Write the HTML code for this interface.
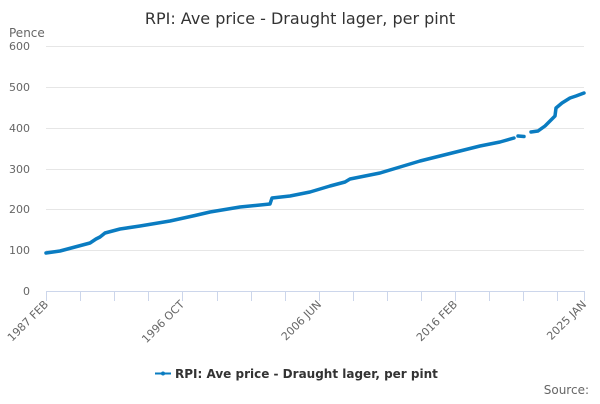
<!DOCTYPE html>
<html><head><meta charset="utf-8"><style>
body{margin:0;width:600px;height:400px;background:#fff;overflow:hidden;font-family:"DejaVu Sans","Liberation Sans",sans-serif;}
</style></head><body>
<svg width="600" height="400" xmlns="http://www.w3.org/2000/svg" font-family="DejaVu Sans, Liberation Sans, sans-serif">
<text x="300" y="24" text-anchor="middle" font-size="16" fill="#333">RPI: Ave price - Draught lager, per pint</text>
<text x="9" y="37" font-size="12" fill="#666">Pence</text>
<g stroke="#e6e6e6" stroke-width="1">
<line x1="46" x2="584" y1="46.5" y2="46.5"/><line x1="46" x2="584" y1="87.5" y2="87.5"/>
<line x1="46" x2="584" y1="128.5" y2="128.5"/><line x1="46" x2="584" y1="169.5" y2="169.5"/>
<line x1="46" x2="584" y1="209.5" y2="209.5"/><line x1="46" x2="584" y1="250.5" y2="250.5"/>
</g>
<line x1="46" x2="584" y1="291.5" y2="291.5" stroke="#ccd6eb"/>
<g stroke="#ccd6eb">
<line x1="46.5" x2="46.5" y1="291" y2="301"/><line x1="80.5" x2="80.5" y1="291" y2="301"/><line x1="114.5" x2="114.5" y1="291" y2="301"/><line x1="148.5" x2="148.5" y1="291" y2="301"/><line x1="182.5" x2="182.5" y1="291" y2="301"/><line x1="217.5" x2="217.5" y1="291" y2="301"/><line x1="251.5" x2="251.5" y1="291" y2="301"/><line x1="285.5" x2="285.5" y1="291" y2="301"/><line x1="319.5" x2="319.5" y1="291" y2="301"/><line x1="353.5" x2="353.5" y1="291" y2="301"/><line x1="387.5" x2="387.5" y1="291" y2="301"/><line x1="421.5" x2="421.5" y1="291" y2="301"/><line x1="455.5" x2="455.5" y1="291" y2="301"/><line x1="489.5" x2="489.5" y1="291" y2="301"/><line x1="523.5" x2="523.5" y1="291" y2="301"/><line x1="557.5" x2="557.5" y1="291" y2="301"/><line x1="584.5" x2="584.5" y1="291" y2="301"/>
</g>
<g font-size="11" fill="#666" text-anchor="end">
<text x="30" y="50">600</text><text x="30" y="91">500</text><text x="30" y="132">400</text><text x="30" y="173">300</text><text x="30" y="213">200</text><text x="30" y="254">100</text><text x="30" y="295">0</text>
</g>
<g font-size="11" fill="#666" text-anchor="end">
<text transform="translate(49,305) rotate(-45)">1987 FEB</text>
<text transform="translate(185,305) rotate(-45)">1996 OCT</text>
<text transform="translate(322,305) rotate(-45)">2006 JUN</text>
<text transform="translate(458,305) rotate(-45)">2016 FEB</text>
<text transform="translate(587,305) rotate(-45)">2025 JAN</text>
</g>
<g fill="none" stroke="#0a7cc1" stroke-width="3.5" stroke-linejoin="round" stroke-linecap="round">
<polyline points="46,253 60,251 75,247 90,243 96,239 100,237 105,233 120,229 140,226 170,221 195,215.5 210,212 240,207 270,204 272,198 290,196 310,192 330,186 345,182 350,179 360,177 380,173 400,167 420,161 440,156 460,151 480,146 500,142 514,138"/>
<polyline points="518,136 524,136.5"/>
<polyline points="531,132 538,131 545,126 552,119 555,116 556,108 562,103 570,98 576,96 584,93"/>
</g>
<line x1="155" x2="171" y1="373.5" y2="373.5" stroke="#0a7cc1" stroke-width="2"/>
<circle cx="163" cy="373.5" r="2" fill="#0a7cc1"/>
<text x="175" y="378" font-size="12" font-weight="bold" fill="#333">RPI: Ave price - Draught lager, per pint</text>
<text x="589" y="394" font-size="12" fill="#666" text-anchor="end">Source:</text>
</svg>
</body></html>
